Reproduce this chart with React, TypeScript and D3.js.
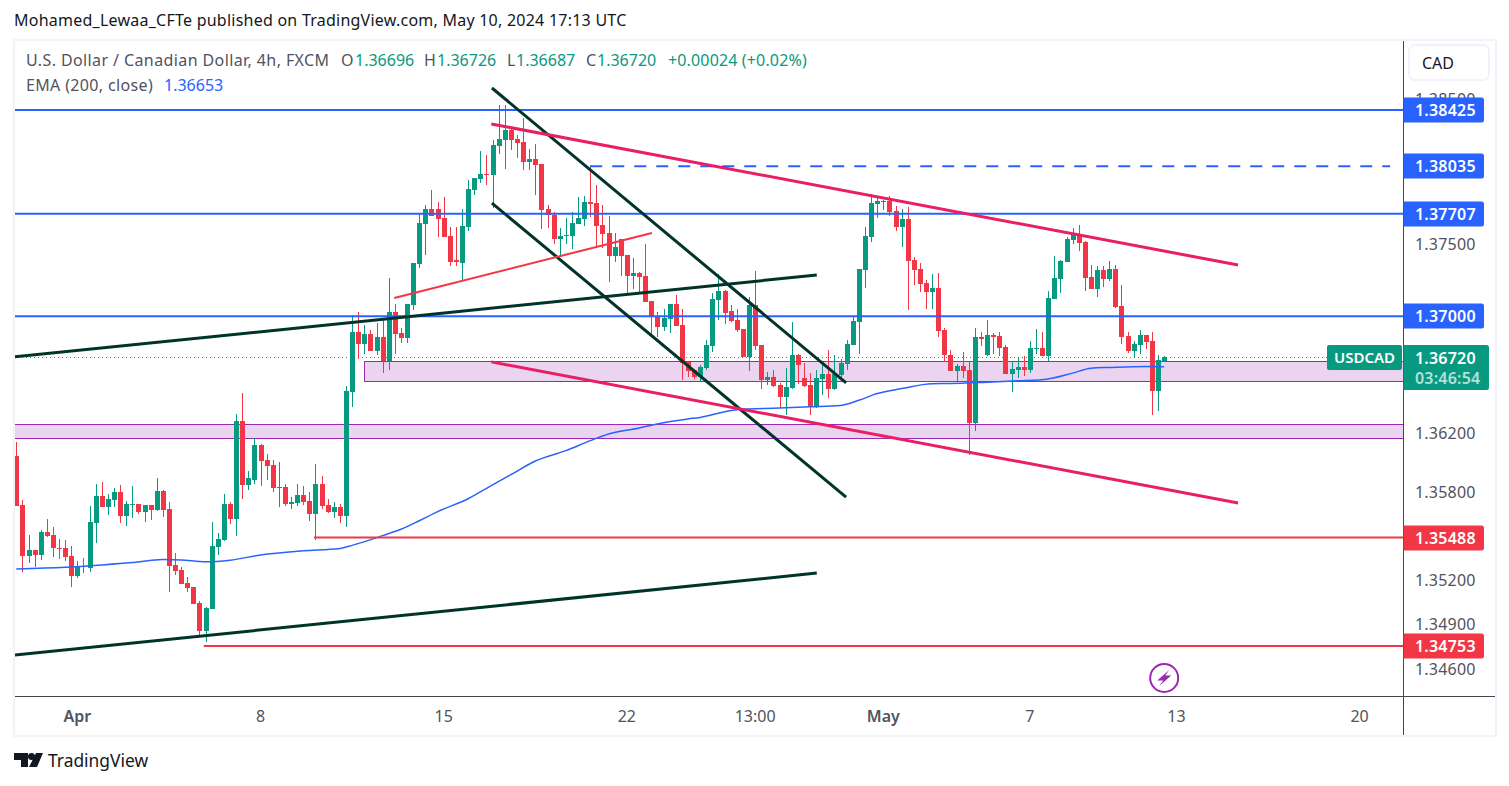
import React from "react";
import * as d3 from "d3";

const width = 1509;
const height = 786;

// chart pane
const paneLeft = 14;
const paneRight = 1403.5;
const paneTop = 41;
const paneBottom = 696.5;

const green = "#089981";
const red = "#f23645";
const blue = "#2962ff";
const pink = "#e91e63";
const dark = "#00332a";
const purple = "#9c27b0";
const axisText = "#50535e";
const font = "'Noto Sans', sans-serif";

// prices are in units of 0.00001
const opens = [
  136040,135711,135364,135404,135370,135527,135507,135418,135418,135364,
  135227,135296,135284,135588,135772,135697,135745,135799,135636,135711,
  135718,135663,135711,135677,135806,135684,135302,135268,135180,135153,
  135044,134853,135003,135425,135473,135718,135616,136283,135847,135881,
  136120,136017,135983,135827,135834,135718,135725,135779,135738,135650,
  135854,135711,135663,135697,135636,136480,136894,136811,136880,136763,
  136860,136694,137032,136887,136853,137080,137363,137639,137736,137736,
  137674,137550,137384,137370,137612,137874,137950,137984,137971,138178,
  138219,138288,138226,138205,138067,138088,138053,137736,137701,137529,
  137550,137550,137639,137667,137791,137784,137626,137577,137412,137529,
  137419,137274,137301,137274,137108,137005,136929,136984,137087,136942,
  136689,136634,136586,136648,136799,137115,137177,137033,136978,136916,
  136724,137081,136806,136566,136586,136531,136449,136511,136731,136579,
  136531,136380,136573,136607,136504,136600,136676,136806,136964,137321,
  137548,137775,137795,137795,137727,137617,137672,137390,137328,137232,
  137170,137198,136909,136737,136628,136662,136633,136269,136860,136736,
  136873,136866,136791,136605,136633,136653,136633,136777,136784,136729,
  137121,137258,137375,137526,137567,137512,137272,137189,137320,137258,
  137327,137072,136866,136763,136805,136873,136832,136489,136696,
];
const highs = [
  136142,135745,135507,135404,135541,135616,135561,135479,135473,135432,
  135327,135350,135704,135854,135868,135786,135827,135847,135738,135840,
  135718,135711,135711,135895,135813,135731,135384,135286,135221,135153,
  135057,135016,135595,135520,135786,135731,136331,136474,135942,136167,
  136126,136058,136017,136004,135854,135765,135854,135840,135799,135990,
  135908,135752,135731,135718,136522,137011,137032,136942,136908,136956,
  136977,137260,137087,136922,137087,137370,137708,137764,137874,137791,
  137819,137612,137612,137736,137943,137957,138143,138115,138219,138460,
  138460,138302,138253,138371,138157,138191,138053,137764,137722,137605,
  137674,137722,137819,137826,138046,137902,137764,137688,137577,137529,
  137425,137398,137308,137501,137108,137032,137053,137087,137149,137053,
  136689,136641,136669,136834,137157,137294,137184,137081,137047,136916,
  137136,137315,136806,136621,136634,136545,136648,136964,136744,136682,
  136614,136634,136689,136772,136731,136710,136840,137005,137328,137617,
  137844,137830,137802,137830,137761,137740,137754,137411,137369,137253,
  137294,137301,136923,136772,136676,136758,136688,136921,136894,136976,
  136887,136894,136805,136695,136722,136729,136832,136914,136894,137176,
  137416,137388,137547,137608,137629,137519,137354,137347,137347,137382,
  137354,137217,136894,136832,136908,136873,136894,136736,136726,
];
const lows = [
  135700,135257,135318,135291,135336,135495,135359,135345,135332,135155,
  135216,135250,135257,135452,135697,135643,135697,135588,135568,135622,
  135650,135595,135609,135670,135629,135118,135234,135173,135118,135037,
  134819,134778,135003,135370,135466,135582,135500,135752,135813,135854,
  135840,135881,135799,135697,135704,135684,135704,135711,135602,135473,
  135684,135656,135622,135588,135561,136377,136708,136742,136763,136735,
  136611,136632,136742,136818,136818,137046,137329,137419,137688,137543,
  137543,137343,137343,137253,137584,137839,137922,137908,137743,138122,
  138019,138150,138095,138012,138012,137833,137598,137605,137501,137419,
  137501,137460,137639,137619,137681,137467,137467,137239,137377,137274,
  137156,137191,137156,137101,136873,136860,136901,136887,136936,136563,
  136586,136573,136559,136634,136758,136978,136950,136964,136895,136724,
  136628,136772,136504,136531,136518,136373,136325,136504,136538,136518,
  136325,136373,136463,136442,136497,136586,136634,136806,136744,137198,
  137514,137679,137734,137692,137589,137479,137040,137218,137170,137053,
  137047,136861,136689,136628,136559,136579,136049,136214,136798,136729,
  136743,136729,136605,136482,136578,136592,136612,136743,136729,136695,
  137121,137162,137375,137498,137450,137176,137189,137134,137203,137244,
  137059,136811,136750,136715,136743,136777,136324,136351,136687,
];
const closes = [
  135704,135364,135404,135370,135527,135500,135414,135411,135359,135227,
  135296,135286,135595,135772,135697,135752,135799,135636,135718,135718,
  135663,135711,135677,135806,135677,135296,135261,135173,135146,135037,
  134853,135010,135432,135479,135718,135616,136283,135847,135895,136120,
  136011,135977,135827,135834,135718,135731,135779,135731,135650,135854,
  135704,135663,135697,135636,136487,136894,136811,136880,136763,136860,
  136694,137032,136880,136853,137087,137370,137646,137736,137688,137667,
  137543,137377,137377,137619,137881,137957,137984,137977,138184,138226,
  138288,138219,138198,138067,138088,138046,137729,137695,137529,137550,
  137557,137646,137674,137791,137777,137619,137570,137412,137474,137412,
  137274,137301,137267,137101,136998,136929,136991,137087,136936,136680,
  136628,136586,136655,136806,137122,137177,137026,136971,136909,136724,
  137081,136799,136566,136586,136524,136449,136518,136731,136669,136524,
  136380,136579,136607,136504,136607,136682,136813,136971,137328,137555,
  137782,137795,137789,137720,137617,137672,137383,137321,137225,137170,
  137198,136902,136731,136628,136662,136628,136269,136860,136846,136873,
  136860,136784,136605,136640,136653,136633,136784,136784,136729,137127,
  137265,137382,137533,137560,137505,137265,137189,137320,137258,137327,
  137066,136860,136763,136811,136873,136825,136489,136701,136720,
];

// EMA read at some bars
const emaBars = [0, 8, 14, 19, 24, 27, 31, 35, 40, 47, 53, 55, 60, 63, 66, 69, 74, 78, 81, 85, 90, 94, 97, 102, 106, 110, 112, 118, 125, 130, 135, 138, 141, 145, 150, 153, 159, 164, 168, 173, 176, 179, 185, 188];
const emaValues = [135275, 135286, 135302, 135318, 135339, 135336, 135323, 135334, 135370, 135398, 135414, 135435, 135501, 135544, 135602, 135664, 135752, 135847, 135916, 136009, 136080, 136148, 136194, 136235, 136271, 136296, 136307, 136360, 136371, 136380, 136389, 136424, 136470, 136504, 136538, 136539, 136548, 136557, 136564, 136610, 136644, 136649, 136656, 136653];

const blueLevels = [1.38425, 1.37707, 1.37];
const dashedLevel = 1.38035;
const dashedFrom = 94;
const dashedTo = 225;
const redLevels = [1.35488, 1.34753];
const redFrom = [48.75, 30.7];

const zones = [
  { from: 56.9, top: 1.36694, bottom: 1.36556 },
  { from: -1, top: 1.3626, bottom: 1.36164 },
];

// trend lines: bar, price, bar, price
const darkLines = [
  [-0.4, 1.36721, 131.1, 1.37284],
  [-0.4, 1.34691, 131.1, 1.35247],
  [77.9, 1.38578, 135.9, 1.36543],
  [77.9, 1.3778, 135.9, 1.35763],
];
const pinkLines = [
  [77.8, 1.38328, 200.1, 1.37353],
  [77.8, 1.36687, 200.1, 1.35723],
];
const redLines = [[61.9, 1.37126, 104.1, 1.37574]];

const priceTicks = [1.385, 1.375, 1.362, 1.358, 1.352, 1.349, 1.346];
const timeBars = [10, 40, 70, 100, 121, 142, 166, 190, 220];
const timeLabels = ["Apr", "8", "15", "22", "13:00", "May", "7", "13", "20"];

const lastClose = 1.3672;
const countdown = "03:46:54";

const x = d3.scaleLinear().domain([0, 188]).range([16.3, 1164.2]);
const y = d3.scaleLog().base(Math.E).domain([1.38425, 1.34753]).range([110, 646]);

const emaLine = d3
  .line<number>()
  .x((_, i) => x(emaBars[i]))
  .y((d) => y(d / 1e5))
  .curve(d3.curveMonotoneX);

function PriceTag({ price, color }: { price: number; color: string }) {
  const cy = Math.round(y(price));
  return (
    <g>
      <path
        d={`M1403.5 ${cy - 12.5}h78a2.5 2.5 0 0 1 2.5 2.5v20a2.5 2.5 0 0 1 -2.5 2.5h-78z`}
        fill={color}
      />
      <text x={1415} y={cy + 6} fontSize={16} fontWeight={600} fill="#fff" letterSpacing={0.2}>
        {price.toFixed(5)}
      </text>
    </g>
  );
}

function Trend({ line, color, w }: { line: number[]; color: string; w: number }) {
  return (
    <line
      x1={x(line[0])}
      y1={y(line[1])}
      x2={x(line[2])}
      y2={y(line[3])}
      stroke={color}
      strokeWidth={w}
    />
  );
}

export default function App() {
  const lastY = Math.round(y(lastClose));
  return (
    <svg
      width={width}
      height={height}
      viewBox={`0 0 ${width} ${height}`}
      fontFamily={font}
      style={{ position: "absolute", left: 0, top: 0, background: "#fff" }}
    >
      <defs>
        <clipPath id="pane">
          <rect x={paneLeft + 1} y={paneTop} width={paneRight - paneLeft - 1} height={paneBottom - paneTop} />
        </clipPath>
      </defs>

      <text x={14} y={26} fontSize={16} fill="#131722" letterSpacing={0.24}>
        Mohamed_Lewaa_CFTe published on TradingView.com, May 10, 2024 17:13 UTC
      </text>

      <rect x={14} y={40} width={1482} height={696} fill="#fff" stroke="#f0f3fa" strokeWidth={2} />

      <g clipPath="url(#pane)">
        {zones.map((z, i) => (
          <rect
            key={i}
            x={Math.round(x(z.from)) + 0.5}
            y={Math.round(y(z.top)) + 0.5}
            width={paneRight + 5 - x(z.from)}
            height={Math.round(y(z.bottom)) - Math.round(y(z.top))}
            fill="#ead4ef"
            stroke={purple}
          />
        ))}
        <line
          x1={paneLeft}
          x2={1327}
          y1={lastY + 0.5}
          y2={lastY + 0.5}
          stroke={green}
          strokeDasharray="1 3"
        />

        {/* candles */}
        <g shapeRendering="crispEdges">
          {opens.map((o, i) => {
            const c = closes[i];
            const cx = Math.round(x(i));
            const color = c >= o ? green : red;
            const top = y(Math.max(o, c) / 1e5);
            const bottom = y(Math.min(o, c) / 1e5);
            return (
              <g key={i}>
                <rect x={cx} y={y(highs[i] / 1e5)} width={1} height={y(lows[i] / 1e5) - y(highs[i] / 1e5)} fill={color} />
                <rect x={cx - 2} y={top} width={5} height={Math.max(1, bottom - top)} fill={color} />
              </g>
            );
          })}
        </g>

        <path d={emaLine(emaValues) ?? ""} fill="none" stroke={blue} strokeWidth={1.5} />

        {blueLevels.map((p) => (
          <line key={p} x1={paneLeft} x2={paneRight} y1={y(p)} y2={y(p)} stroke={blue} strokeWidth={2} />
        ))}
        <line
          x1={x(dashedFrom)}
          x2={x(dashedTo)}
          y1={y(dashedLevel)}
          y2={y(dashedLevel)}
          stroke={blue}
          strokeWidth={2}
          strokeDasharray="12 10"
        />
        {redLevels.map((p, i) => (
          <line key={p} x1={x(redFrom[i])} x2={paneRight} y1={y(p)} y2={y(p)} stroke={red} strokeWidth={2} />
        ))}

        {darkLines.map((l, i) => (
          <Trend key={i} line={l} color={dark} w={3} />
        ))}
        {pinkLines.map((l, i) => (
          <Trend key={i} line={l} color={pink} w={3} />
        ))}
        {redLines.map((l, i) => (
          <Trend key={i} line={l} color={red} w={2} />
        ))}

        {/* flash icon */}
        <g transform={`translate(${x(188)},678)`}>
          <circle r={14} fill="#fff" stroke={purple} strokeWidth={2} />
          <path d="M5 -8L-7 2.5H-1L-5 8L7 -2.5H1Z" fill={purple} />
        </g>
      </g>

      {/* axes */}
      <line x1={15} x2={1495} y1={paneBottom} y2={paneBottom} stroke="#434651" />
      <line x1={paneRight} x2={paneRight} y1={41} y2={735} stroke="#434651" />

      {priceTicks.map((p) => (
        <text key={p} x={1415} y={y(p) + 6} fontSize={16} fill={axisText} letterSpacing={0.2}>
          {p.toFixed(5)}
        </text>
      ))}
      {timeBars.map((b, i) => (
        <text
          key={b}
          x={x(b)}
          y={722}
          fontSize={16}
          textAnchor="middle"
          fill={axisText}
          fontWeight={timeLabels[i] === "Apr" || timeLabels[i] === "May" ? 600 : 400}
        >
          {timeLabels[i]}
        </text>
      ))}

      {/* currency button */}
      <rect x={1409} y={45} width={80} height={35} rx={6} fill="#fff" stroke="#f0f3fa" strokeWidth={2} />
      <text x={1422} y={69} fontSize={16} fill="#131722">
        CAD
      </text>

      {blueLevels.map((p) => (
        <PriceTag key={p} price={p} color={blue} />
      ))}
      <PriceTag price={dashedLevel} color={blue} />
      {redLevels.map((p) => (
        <PriceTag key={p} price={p} color={red} />
      ))}

      {/* last price tag */}
      <rect x={1327} y={345} width={75} height={25} rx={2} fill={green} />
      <text x={1364.5} y={363} fontSize={15} fontWeight={600} textAnchor="middle" fill="#fff">
        USDCAD
      </text>
      <path d="M1403.5 345h83a2.5 2.5 0 0 1 2.5 2.5v40a2.5 2.5 0 0 1 -2.5 2.5h-83z" fill={green} />
      <text x={1415} y={364} fontSize={16} fontWeight={600} fill="#fff" letterSpacing={0.2}>
        {lastClose.toFixed(5)}
      </text>
      <text x={1415} y={384} fontSize={16} fontWeight={600} fill="#b5e0d9" letterSpacing={0.2}>
        {countdown}
      </text>

      {/* legend */}
      <g fontSize={16}>
        <text x={26} y={66} fill={axisText} letterSpacing={0.4}>U.S. Dollar / Canadian Dollar, 4h, FXCM</text>
        <text x={341} y={66} fill={axisText}>O</text>
        <text x={355} y={66} fill={green}>1.36696</text>
        <text x={424} y={66} fill={axisText}>H</text>
        <text x={437} y={66} fill={green}>1.36726</text>
        <text x={507} y={66} fill={axisText}>L</text>
        <text x={516} y={66} fill={green}>1.36687</text>
        <text x={586} y={66} fill={axisText}>C</text>
        <text x={597} y={66} fill={green}>1.36720</text>
        <text x={668} y={66} fill={green} letterSpacing={0.15}>+0.00024 (+0.02%)</text>
        <text x={26} y={91} fill={axisText} letterSpacing={0.35}>EMA (200, close)</text>
        <text x={164} y={91} fill={blue}>1.36653</text>
      </g>

      {/* logo */}
      <path d="M14 753h14v14h-7v-7h-7zM36 753h7l-6 14h-8z" fill="#131722" />
      <circle cx={31.5} cy={756.5} r={3.5} fill="#131722" />
      <text x={48} y={767} fontSize={17.4} fill="#131722">
        TradingView
      </text>
    </svg>
  );
}
